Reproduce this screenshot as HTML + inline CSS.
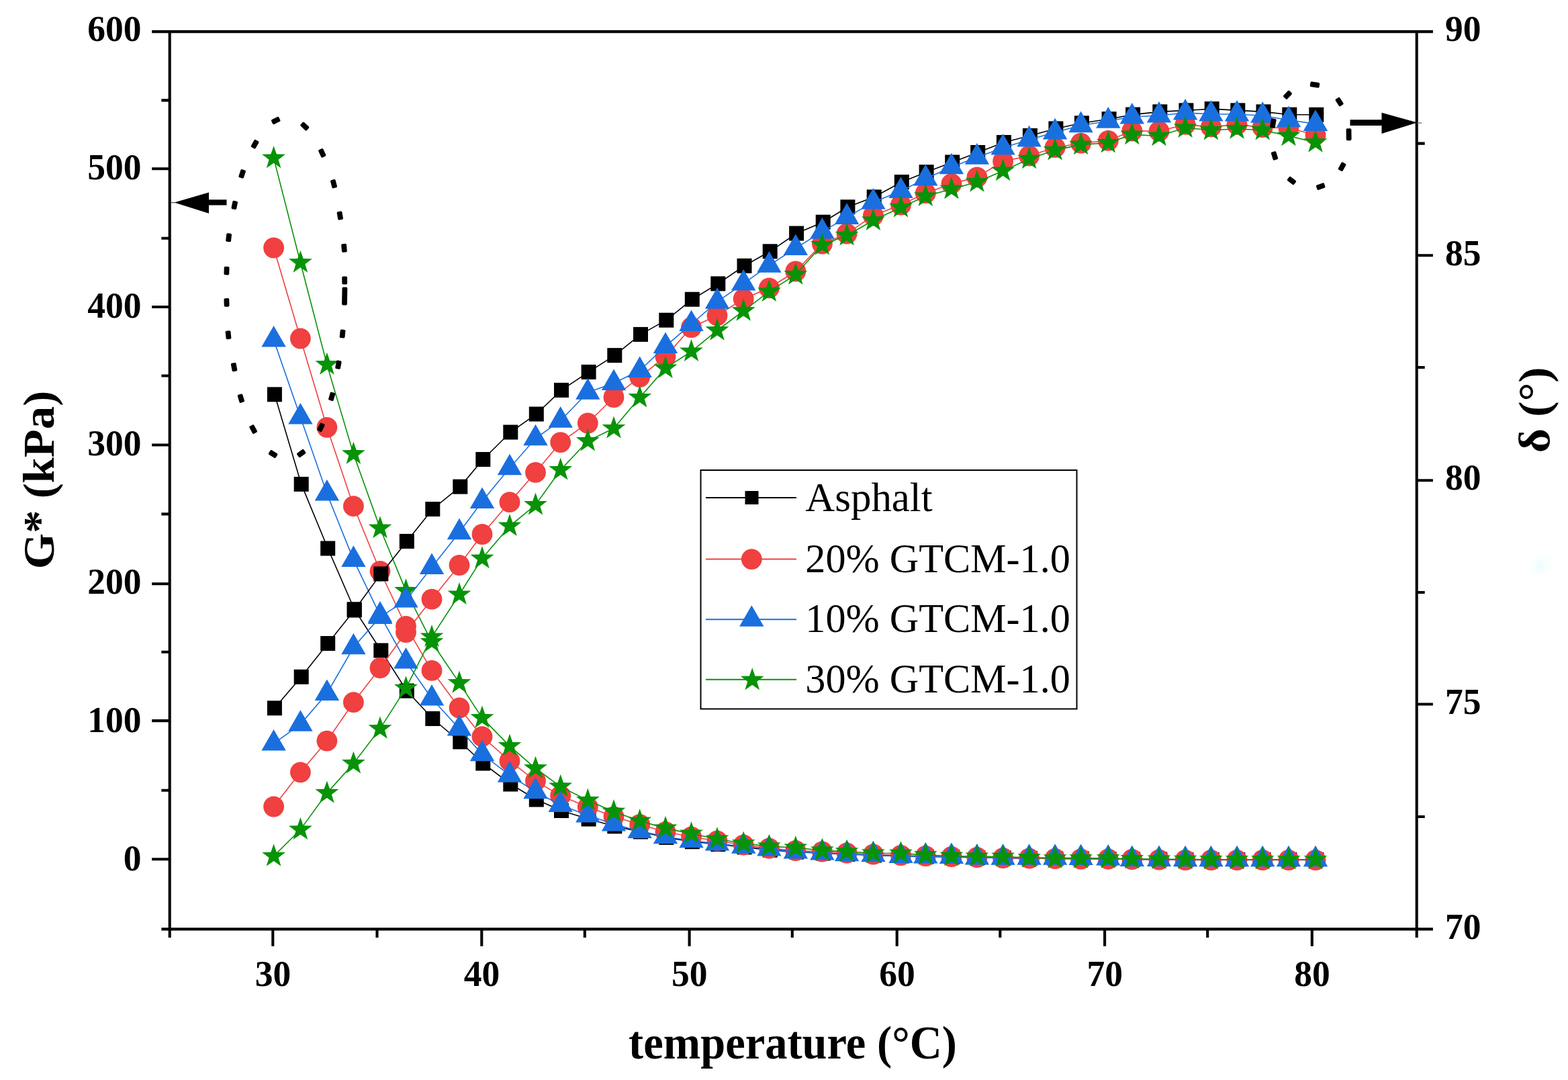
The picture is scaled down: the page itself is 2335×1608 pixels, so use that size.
<!DOCTYPE html>
<html lang="en"><head><meta charset="utf-8"><title>G* and delta vs temperature</title>
<style>html,body{margin:0;padding:0;background:#fff}body{width:2335px;height:1608px;overflow:hidden}svg{display:block}text{font-family:"Liberation Serif","Times New Roman",serif;fill:#000}.b{font-weight:bold}.tk{font-size:55.5px;font-weight:bold}.tt{font-size:70px;font-weight:bold}.ty{font-size:66px;font-weight:bold}.lg{font-size:62px}</style></head><body>
<svg width="2335" height="1608" viewBox="0 0 2335 1608">
<rect width="2335" height="1608" fill="#fff"/>
<g id="layer-g">
<g fill="#000000" stroke="none">
<polyline fill="none" stroke="#000000" stroke-width="1.6" points="408.9,587.3 448.7,720.9 488.2,816.5 527.7,907.2 567.3,968.5 605.8,1028.6 644.3,1070 685.3,1104.5 719.3,1136.5 760.3,1167.5 798.8,1190.5 836,1207 876.6,1219.5 915.3,1230.3 954,1238.4 992.3,1246.9 1030.8,1253.2 1069.3,1257 1108.5,1261.4 1146.7,1265.7 1186.1,1268.5 1225.7,1270.5 1262.4,1272 1301.7,1273.5 1342.8,1274.5 1379.6,1275.5 1418.2,1276 1456.2,1277 1494.9,1277.5 1533.9,1278 1572.4,1278.5 1610.9,1278.5 1651.6,1279 1687.1,1279.5 1727.3,1279.5 1766.4,1280 1804.7,1280 1843.3,1280 1881.5,1280 1920.3,1280 1960.3,1280"/>
<rect x="397.9" y="576.3" width="22" height="22"/>
<rect x="437.7" y="709.9" width="22" height="22"/>
<rect x="477.2" y="805.5" width="22" height="22"/>
<rect x="516.7" y="896.2" width="22" height="22"/>
<rect x="556.3" y="957.5" width="22" height="22"/>
<rect x="594.8" y="1017.6" width="22" height="22"/>
<rect x="633.3" y="1059" width="22" height="22"/>
<rect x="674.3" y="1093.5" width="22" height="22"/>
<rect x="708.3" y="1125.5" width="22" height="22"/>
<rect x="749.3" y="1156.5" width="22" height="22"/>
<rect x="787.8" y="1179.5" width="22" height="22"/>
<rect x="825" y="1196" width="22" height="22"/>
<rect x="865.6" y="1208.5" width="22" height="22"/>
<rect x="904.3" y="1219.3" width="22" height="22"/>
<rect x="943" y="1227.4" width="22" height="22"/>
<rect x="981.3" y="1235.9" width="22" height="22"/>
<rect x="1019.8" y="1242.2" width="22" height="22"/>
<rect x="1058.3" y="1246" width="22" height="22"/>
<rect x="1097.5" y="1250.4" width="22" height="22"/>
<rect x="1135.7" y="1254.7" width="22" height="22"/>
<rect x="1175.1" y="1257.5" width="22" height="22"/>
<rect x="1214.7" y="1259.5" width="22" height="22"/>
<rect x="1251.4" y="1261" width="22" height="22"/>
<rect x="1290.7" y="1262.5" width="22" height="22"/>
<rect x="1331.8" y="1263.5" width="22" height="22"/>
<rect x="1368.6" y="1264.5" width="22" height="22"/>
<rect x="1407.2" y="1265" width="22" height="22"/>
<rect x="1445.2" y="1266" width="22" height="22"/>
<rect x="1483.9" y="1266.5" width="22" height="22"/>
<rect x="1522.9" y="1267" width="22" height="22"/>
<rect x="1561.4" y="1267.5" width="22" height="22"/>
<rect x="1599.9" y="1267.5" width="22" height="22"/>
<rect x="1640.6" y="1268" width="22" height="22"/>
<rect x="1676.1" y="1268.5" width="22" height="22"/>
<rect x="1716.3" y="1268.5" width="22" height="22"/>
<rect x="1755.4" y="1269" width="22" height="22"/>
<rect x="1793.7" y="1269" width="22" height="22"/>
<rect x="1832.3" y="1269" width="22" height="22"/>
<rect x="1870.5" y="1269" width="22" height="22"/>
<rect x="1909.3" y="1269" width="22" height="22"/>
<rect x="1949.3" y="1269" width="22" height="22"/>
</g>
<g fill="#F04040" stroke="none">
<polyline fill="none" stroke="#F04040" stroke-width="1.6" points="407.6,369 447.4,504 486.9,636.3 526.4,753.7 566,850.3 604.5,932.3 643,998.4 684,1054 718,1096.7 759,1133 797.5,1162.7 834.7,1184.7 875.3,1201.6 914,1215.8 952.7,1227.4 991,1238.5 1029.5,1246 1068,1252 1107.2,1258 1145.4,1263 1184.8,1266.5 1224.4,1268 1261.1,1270 1300.4,1272 1341.5,1273.5 1378.3,1274.5 1416.9,1275.5 1454.9,1276.5 1493.6,1277.5 1532.6,1278 1571.1,1278.5 1609.6,1279 1650.3,1279 1685.8,1279.5 1726,1280 1765.1,1280.5 1803.4,1280.5 1842,1280.5 1880.2,1280.5 1919,1280.5 1959,1280.5"/>
<circle cx="407.6" cy="369" r="15.4"/>
<circle cx="447.4" cy="504" r="15.4"/>
<circle cx="486.9" cy="636.3" r="15.4"/>
<circle cx="526.4" cy="753.7" r="15.4"/>
<circle cx="566" cy="850.3" r="15.4"/>
<circle cx="604.5" cy="932.3" r="15.4"/>
<circle cx="643" cy="998.4" r="15.4"/>
<circle cx="684" cy="1054" r="15.4"/>
<circle cx="718" cy="1096.7" r="15.4"/>
<circle cx="759" cy="1133" r="15.4"/>
<circle cx="797.5" cy="1162.7" r="15.4"/>
<circle cx="834.7" cy="1184.7" r="15.4"/>
<circle cx="875.3" cy="1201.6" r="15.4"/>
<circle cx="914" cy="1215.8" r="15.4"/>
<circle cx="952.7" cy="1227.4" r="15.4"/>
<circle cx="991" cy="1238.5" r="15.4"/>
<circle cx="1029.5" cy="1246" r="15.4"/>
<circle cx="1068" cy="1252" r="15.4"/>
<circle cx="1107.2" cy="1258" r="15.4"/>
<circle cx="1145.4" cy="1263" r="15.4"/>
<circle cx="1184.8" cy="1266.5" r="15.4"/>
<circle cx="1224.4" cy="1268" r="15.4"/>
<circle cx="1261.1" cy="1270" r="15.4"/>
<circle cx="1300.4" cy="1272" r="15.4"/>
<circle cx="1341.5" cy="1273.5" r="15.4"/>
<circle cx="1378.3" cy="1274.5" r="15.4"/>
<circle cx="1416.9" cy="1275.5" r="15.4"/>
<circle cx="1454.9" cy="1276.5" r="15.4"/>
<circle cx="1493.6" cy="1277.5" r="15.4"/>
<circle cx="1532.6" cy="1278" r="15.4"/>
<circle cx="1571.1" cy="1278.5" r="15.4"/>
<circle cx="1609.6" cy="1279" r="15.4"/>
<circle cx="1650.3" cy="1279" r="15.4"/>
<circle cx="1685.8" cy="1279.5" r="15.4"/>
<circle cx="1726" cy="1280" r="15.4"/>
<circle cx="1765.1" cy="1280.5" r="15.4"/>
<circle cx="1803.4" cy="1280.5" r="15.4"/>
<circle cx="1842" cy="1280.5" r="15.4"/>
<circle cx="1880.2" cy="1280.5" r="15.4"/>
<circle cx="1919" cy="1280.5" r="15.4"/>
<circle cx="1959" cy="1280.5" r="15.4"/>
</g>
<g fill="#1A6FDF" stroke="none">
<polyline fill="none" stroke="#1A6FDF" stroke-width="1.6" points="407.6,506 447.4,621 486.9,735 526.4,833.4 566,916.2 604.5,985 643,1040 684,1085 718,1122.8 759,1154.2 797.5,1178.7 834.7,1198.5 875.3,1214 914,1227 952.7,1237.4 991,1245.8 1029.5,1251.8 1068,1256.1 1107.2,1260.2 1145.4,1264.1 1184.8,1268 1224.4,1269.9 1261.1,1271.7 1300.4,1272.8 1341.5,1274.5 1378.3,1275 1416.9,1275.5 1454.9,1277 1493.6,1277.3 1532.6,1277.3 1571.1,1277.3 1609.6,1277.5 1650.3,1278 1685.8,1279.5 1726,1279.5 1765.1,1279.8 1803.4,1279.8 1842,1279.8 1880.2,1279.8 1919,1279.8 1959,1279.8"/>
<polygon points="407.6,484.9 425.8,516.5 389.4,516.5"/>
<polygon points="447.4,599.9 465.6,631.5 429.2,631.5"/>
<polygon points="486.9,713.9 505.1,745.5 468.7,745.5"/>
<polygon points="526.4,812.3 544.6,843.9 508.2,843.9"/>
<polygon points="566,895.1 584.2,926.7 547.8,926.7"/>
<polygon points="604.5,963.9 622.7,995.5 586.3,995.5"/>
<polygon points="643,1018.9 661.2,1050.5 624.8,1050.5"/>
<polygon points="684,1063.9 702.2,1095.5 665.8,1095.5"/>
<polygon points="718,1101.7 736.2,1133.3 699.8,1133.3"/>
<polygon points="759,1133.1 777.2,1164.7 740.8,1164.7"/>
<polygon points="797.5,1157.6 815.7,1189.2 779.3,1189.2"/>
<polygon points="834.7,1177.4 852.9,1209 816.5,1209"/>
<polygon points="875.3,1192.9 893.5,1224.5 857.1,1224.5"/>
<polygon points="914,1205.9 932.2,1237.5 895.8,1237.5"/>
<polygon points="952.7,1216.3 970.9,1247.9 934.5,1247.9"/>
<polygon points="991,1224.7 1009.2,1256.3 972.8,1256.3"/>
<polygon points="1029.5,1230.7 1047.7,1262.3 1011.3,1262.3"/>
<polygon points="1068,1235 1086.2,1266.6 1049.8,1266.6"/>
<polygon points="1107.2,1239.1 1125.4,1270.7 1089,1270.7"/>
<polygon points="1145.4,1243 1163.6,1274.6 1127.2,1274.6"/>
<polygon points="1184.8,1246.9 1203,1278.5 1166.6,1278.5"/>
<polygon points="1224.4,1248.8 1242.6,1280.4 1206.2,1280.4"/>
<polygon points="1261.1,1250.6 1279.3,1282.2 1242.9,1282.2"/>
<polygon points="1300.4,1251.7 1318.6,1283.3 1282.2,1283.3"/>
<polygon points="1341.5,1253.4 1359.7,1285 1323.3,1285"/>
<polygon points="1378.3,1253.9 1396.5,1285.5 1360.1,1285.5"/>
<polygon points="1416.9,1254.4 1435.1,1286 1398.7,1286"/>
<polygon points="1454.9,1255.9 1473.1,1287.5 1436.7,1287.5"/>
<polygon points="1493.6,1256.2 1511.8,1287.8 1475.4,1287.8"/>
<polygon points="1532.6,1256.2 1550.8,1287.8 1514.4,1287.8"/>
<polygon points="1571.1,1256.2 1589.3,1287.8 1552.9,1287.8"/>
<polygon points="1609.6,1256.4 1627.8,1288 1591.4,1288"/>
<polygon points="1650.3,1256.9 1668.5,1288.5 1632.1,1288.5"/>
<polygon points="1685.8,1258.4 1704,1290 1667.6,1290"/>
<polygon points="1726,1258.4 1744.2,1290 1707.8,1290"/>
<polygon points="1765.1,1258.7 1783.3,1290.3 1746.9,1290.3"/>
<polygon points="1803.4,1258.7 1821.6,1290.3 1785.2,1290.3"/>
<polygon points="1842,1258.7 1860.2,1290.3 1823.8,1290.3"/>
<polygon points="1880.2,1258.7 1898.4,1290.3 1862,1290.3"/>
<polygon points="1919,1258.7 1937.2,1290.3 1900.8,1290.3"/>
<polygon points="1959,1258.7 1977.2,1290.3 1940.8,1290.3"/>
</g>
<g fill="#079307" stroke="none">
<polyline fill="none" stroke="#079307" stroke-width="1.6" points="407.6,235.5 447.4,391 486.9,543 526.4,676 566,786.5 604.5,879.6 643,956 684,1016.9 718,1068.9 759,1110.8 797.5,1144 834.7,1171.1 875.3,1191.8 914,1208.4 952.7,1222.3 991,1233.1 1029.5,1241.3 1068,1249.3 1107.2,1255.8 1145.4,1260.1 1184.8,1262.2 1224.4,1266.1 1261.1,1268 1300.4,1270.2 1341.5,1270.5 1378.3,1273 1416.9,1274.5 1454.9,1275.3 1493.6,1275.5 1532.6,1277 1571.1,1277.9 1609.6,1278 1650.3,1278 1685.8,1278.8 1726,1279.3 1765.1,1279.5 1803.4,1279.8 1842,1279.8 1880.2,1279.8 1919,1279.8 1959,1279.8"/>
<polygon points="407.6,217.2 411.9,229.6 425,229.8 414.6,237.8 418.4,250.3 407.6,242.8 396.8,250.3 400.6,237.8 390.2,229.8 403.3,229.6"/>
<polygon points="447.4,372.7 451.7,385.1 464.8,385.3 454.4,393.3 458.2,405.8 447.4,398.3 436.6,405.8 440.4,393.3 430,385.3 443.1,385.1"/>
<polygon points="486.9,524.7 491.2,537.1 504.3,537.3 493.9,545.3 497.7,557.8 486.9,550.3 476.1,557.8 479.9,545.3 469.5,537.3 482.6,537.1"/>
<polygon points="526.4,657.7 530.7,670.1 543.8,670.3 533.4,678.3 537.2,690.8 526.4,683.3 515.6,690.8 519.4,678.3 509,670.3 522.1,670.1"/>
<polygon points="566,768.2 570.3,780.6 583.4,780.8 573,788.8 576.8,801.3 566,793.8 555.2,801.3 559,788.8 548.6,780.8 561.7,780.6"/>
<polygon points="604.5,861.3 608.8,873.7 621.9,873.9 611.5,881.9 615.3,894.4 604.5,886.9 593.7,894.4 597.5,881.9 587.1,873.9 600.2,873.7"/>
<polygon points="643,937.7 647.3,950.1 660.4,950.3 650,958.3 653.8,970.8 643,963.3 632.2,970.8 636,958.3 625.6,950.3 638.7,950.1"/>
<polygon points="684,998.6 688.3,1011 701.4,1011.2 691,1019.2 694.8,1031.7 684,1024.2 673.2,1031.7 677,1019.2 666.6,1011.2 679.7,1011"/>
<polygon points="718,1050.6 722.3,1063 735.4,1063.2 725,1071.2 728.8,1083.7 718,1076.2 707.2,1083.7 711,1071.2 700.6,1063.2 713.7,1063"/>
<polygon points="759,1092.5 763.3,1104.9 776.4,1105.1 766,1113.1 769.8,1125.6 759,1118.1 748.2,1125.6 752,1113.1 741.6,1105.1 754.7,1104.9"/>
<polygon points="797.5,1125.7 801.8,1138.1 814.9,1138.3 804.5,1146.3 808.3,1158.8 797.5,1151.3 786.7,1158.8 790.5,1146.3 780.1,1138.3 793.2,1138.1"/>
<polygon points="834.7,1152.8 839,1165.2 852.1,1165.4 841.7,1173.4 845.5,1185.9 834.7,1178.4 823.9,1185.9 827.7,1173.4 817.3,1165.4 830.4,1165.2"/>
<polygon points="875.3,1173.5 879.6,1185.9 892.7,1186.1 882.3,1194.1 886.1,1206.6 875.3,1199.1 864.5,1206.6 868.3,1194.1 857.9,1186.1 871,1185.9"/>
<polygon points="914,1190.1 918.3,1202.5 931.4,1202.7 921,1210.7 924.8,1223.2 914,1215.7 903.2,1223.2 907,1210.7 896.6,1202.7 909.7,1202.5"/>
<polygon points="952.7,1204 957,1216.4 970.1,1216.6 959.7,1224.6 963.5,1237.1 952.7,1229.6 941.9,1237.1 945.7,1224.6 935.3,1216.6 948.4,1216.4"/>
<polygon points="991,1214.8 995.3,1227.2 1008.4,1227.4 998,1235.4 1001.8,1247.9 991,1240.4 980.2,1247.9 984,1235.4 973.6,1227.4 986.7,1227.2"/>
<polygon points="1029.5,1223 1033.8,1235.4 1046.9,1235.6 1036.5,1243.6 1040.3,1256.1 1029.5,1248.6 1018.7,1256.1 1022.5,1243.6 1012.1,1235.6 1025.2,1235.4"/>
<polygon points="1068,1231 1072.3,1243.4 1085.4,1243.6 1075,1251.6 1078.8,1264.1 1068,1256.6 1057.2,1264.1 1061,1251.6 1050.6,1243.6 1063.7,1243.4"/>
<polygon points="1107.2,1237.5 1111.5,1249.9 1124.6,1250.1 1114.2,1258.1 1118,1270.6 1107.2,1263.1 1096.4,1270.6 1100.2,1258.1 1089.8,1250.1 1102.9,1249.9"/>
<polygon points="1145.4,1241.8 1149.7,1254.2 1162.8,1254.4 1152.4,1262.4 1156.2,1274.9 1145.4,1267.4 1134.6,1274.9 1138.4,1262.4 1128,1254.4 1141.1,1254.2"/>
<polygon points="1184.8,1243.9 1189.1,1256.3 1202.2,1256.5 1191.8,1264.5 1195.6,1277 1184.8,1269.5 1174,1277 1177.8,1264.5 1167.4,1256.5 1180.5,1256.3"/>
<polygon points="1224.4,1247.8 1228.7,1260.2 1241.8,1260.4 1231.4,1268.4 1235.2,1280.9 1224.4,1273.4 1213.6,1280.9 1217.4,1268.4 1207,1260.4 1220.1,1260.2"/>
<polygon points="1261.1,1249.7 1265.4,1262.1 1278.5,1262.3 1268.1,1270.3 1271.9,1282.8 1261.1,1275.3 1250.3,1282.8 1254.1,1270.3 1243.7,1262.3 1256.8,1262.1"/>
<polygon points="1300.4,1251.9 1304.7,1264.3 1317.8,1264.5 1307.4,1272.5 1311.2,1285 1300.4,1277.5 1289.6,1285 1293.4,1272.5 1283,1264.5 1296.1,1264.3"/>
<polygon points="1341.5,1252.2 1345.8,1264.6 1358.9,1264.8 1348.5,1272.8 1352.3,1285.3 1341.5,1277.8 1330.7,1285.3 1334.5,1272.8 1324.1,1264.8 1337.2,1264.6"/>
<polygon points="1378.3,1254.7 1382.6,1267.1 1395.7,1267.3 1385.3,1275.3 1389.1,1287.8 1378.3,1280.3 1367.5,1287.8 1371.3,1275.3 1360.9,1267.3 1374,1267.1"/>
<polygon points="1416.9,1256.2 1421.2,1268.6 1434.3,1268.8 1423.9,1276.8 1427.7,1289.3 1416.9,1281.8 1406.1,1289.3 1409.9,1276.8 1399.5,1268.8 1412.6,1268.6"/>
<polygon points="1454.9,1257 1459.2,1269.4 1472.3,1269.6 1461.9,1277.6 1465.7,1290.1 1454.9,1282.6 1444.1,1290.1 1447.9,1277.6 1437.5,1269.6 1450.6,1269.4"/>
<polygon points="1493.6,1257.2 1497.9,1269.6 1511,1269.8 1500.6,1277.8 1504.4,1290.3 1493.6,1282.8 1482.8,1290.3 1486.6,1277.8 1476.2,1269.8 1489.3,1269.6"/>
<polygon points="1532.6,1258.7 1536.9,1271.1 1550,1271.3 1539.6,1279.3 1543.4,1291.8 1532.6,1284.3 1521.8,1291.8 1525.6,1279.3 1515.2,1271.3 1528.3,1271.1"/>
<polygon points="1571.1,1259.6 1575.4,1272 1588.5,1272.2 1578.1,1280.2 1581.9,1292.7 1571.1,1285.2 1560.3,1292.7 1564.1,1280.2 1553.7,1272.2 1566.8,1272"/>
<polygon points="1609.6,1259.7 1613.9,1272.1 1627,1272.3 1616.6,1280.3 1620.4,1292.8 1609.6,1285.3 1598.8,1292.8 1602.6,1280.3 1592.2,1272.3 1605.3,1272.1"/>
<polygon points="1650.3,1259.7 1654.6,1272.1 1667.7,1272.3 1657.3,1280.3 1661.1,1292.8 1650.3,1285.3 1639.5,1292.8 1643.3,1280.3 1632.9,1272.3 1646,1272.1"/>
<polygon points="1685.8,1260.5 1690.1,1272.9 1703.2,1273.1 1692.8,1281.1 1696.6,1293.6 1685.8,1286.1 1675,1293.6 1678.8,1281.1 1668.4,1273.1 1681.5,1272.9"/>
<polygon points="1726,1261 1730.3,1273.4 1743.4,1273.6 1733,1281.6 1736.8,1294.1 1726,1286.6 1715.2,1294.1 1719,1281.6 1708.6,1273.6 1721.7,1273.4"/>
<polygon points="1765.1,1261.2 1769.4,1273.6 1782.5,1273.8 1772.1,1281.8 1775.9,1294.3 1765.1,1286.8 1754.3,1294.3 1758.1,1281.8 1747.7,1273.8 1760.8,1273.6"/>
<polygon points="1803.4,1261.5 1807.7,1273.9 1820.8,1274.1 1810.4,1282.1 1814.2,1294.6 1803.4,1287.1 1792.6,1294.6 1796.4,1282.1 1786,1274.1 1799.1,1273.9"/>
<polygon points="1842,1261.5 1846.3,1273.9 1859.4,1274.1 1849,1282.1 1852.8,1294.6 1842,1287.1 1831.2,1294.6 1835,1282.1 1824.6,1274.1 1837.7,1273.9"/>
<polygon points="1880.2,1261.5 1884.5,1273.9 1897.6,1274.1 1887.2,1282.1 1891,1294.6 1880.2,1287.1 1869.4,1294.6 1873.2,1282.1 1862.8,1274.1 1875.9,1273.9"/>
<polygon points="1919,1261.5 1923.3,1273.9 1936.4,1274.1 1926,1282.1 1929.8,1294.6 1919,1287.1 1908.2,1294.6 1912,1282.1 1901.6,1274.1 1914.7,1273.9"/>
<polygon points="1959,1261.5 1963.3,1273.9 1976.4,1274.1 1966,1282.1 1969.8,1294.6 1959,1287.1 1948.2,1294.6 1952,1282.1 1941.6,1274.1 1954.7,1273.9"/>
</g>
</g><g id="layer-d">
<g fill="#000000" stroke="none">
<polyline fill="none" stroke="#000000" stroke-width="1.6" points="408.9,1054.3 448.7,1007.8 488.2,958 527.7,908.5 567.3,854.4 605.8,805.9 644.3,758 685.3,724.6 719.3,684 760.3,643.5 798.8,616.5 836,580.9 876.6,553.9 915.3,529.1 954,497.9 992.3,476.7 1030.8,445.7 1069.3,422.4 1108.5,395.8 1146.7,374.3 1186.1,347.5 1225.7,330.7 1262.4,308.2 1301.7,293.3 1342.8,271 1379.6,256.2 1418.2,241.5 1456.2,227 1494.9,212 1533.9,202 1572.4,191.5 1610.9,183.3 1651.6,177.2 1687.1,170.6 1727.3,166.4 1766.4,164.4 1804.7,162.1 1843.3,164.4 1881.5,166.4 1920.3,170.7 1960.3,170.8"/>
<rect x="397.9" y="1043.3" width="22" height="22"/>
<rect x="437.7" y="996.8" width="22" height="22"/>
<rect x="477.2" y="947" width="22" height="22"/>
<rect x="516.7" y="897.5" width="22" height="22"/>
<rect x="556.3" y="843.4" width="22" height="22"/>
<rect x="594.8" y="794.9" width="22" height="22"/>
<rect x="633.3" y="747" width="22" height="22"/>
<rect x="674.3" y="713.6" width="22" height="22"/>
<rect x="708.3" y="673" width="22" height="22"/>
<rect x="749.3" y="632.5" width="22" height="22"/>
<rect x="787.8" y="605.5" width="22" height="22"/>
<rect x="825" y="569.9" width="22" height="22"/>
<rect x="865.6" y="542.9" width="22" height="22"/>
<rect x="904.3" y="518.1" width="22" height="22"/>
<rect x="943" y="486.9" width="22" height="22"/>
<rect x="981.3" y="465.7" width="22" height="22"/>
<rect x="1019.8" y="434.7" width="22" height="22"/>
<rect x="1058.3" y="411.4" width="22" height="22"/>
<rect x="1097.5" y="384.8" width="22" height="22"/>
<rect x="1135.7" y="363.3" width="22" height="22"/>
<rect x="1175.1" y="336.5" width="22" height="22"/>
<rect x="1214.7" y="319.7" width="22" height="22"/>
<rect x="1251.4" y="297.2" width="22" height="22"/>
<rect x="1290.7" y="282.3" width="22" height="22"/>
<rect x="1331.8" y="260" width="22" height="22"/>
<rect x="1368.6" y="245.2" width="22" height="22"/>
<rect x="1407.2" y="230.5" width="22" height="22"/>
<rect x="1445.2" y="216" width="22" height="22"/>
<rect x="1483.9" y="201" width="22" height="22"/>
<rect x="1522.9" y="191" width="22" height="22"/>
<rect x="1561.4" y="180.5" width="22" height="22"/>
<rect x="1599.9" y="172.3" width="22" height="22"/>
<rect x="1640.6" y="166.2" width="22" height="22"/>
<rect x="1676.1" y="159.6" width="22" height="22"/>
<rect x="1716.3" y="155.4" width="22" height="22"/>
<rect x="1755.4" y="153.4" width="22" height="22"/>
<rect x="1793.7" y="151.1" width="22" height="22"/>
<rect x="1832.3" y="153.4" width="22" height="22"/>
<rect x="1870.5" y="155.4" width="22" height="22"/>
<rect x="1909.3" y="159.7" width="22" height="22"/>
<rect x="1949.3" y="159.8" width="22" height="22"/>
</g>
<g fill="#F04040" stroke="none">
<polyline fill="none" stroke="#F04040" stroke-width="1.6" points="407.6,1201 447.4,1149.8 486.9,1103.2 526.4,1045.7 566,994.5 604.5,941.6 643,892.2 684,841.5 718,795.5 759,747.7 797.5,703.4 834.7,658.6 875.3,630 914,591.5 952.7,561.3 991,531 1029.5,487.5 1068,469.8 1107.2,445 1145.4,428.8 1184.8,404 1224.4,363 1261.1,348 1300.4,321 1341.5,305 1378.3,287.7 1416.9,273.6 1454.9,263.9 1493.6,240.2 1532.6,232 1571.1,219.7 1609.6,213.2 1650.3,209.4 1685.8,195 1726,195.3 1765.1,185.4 1803.4,188.9 1842,185.4 1880.2,189.7 1919,190.6 1959,201"/>
<circle cx="407.6" cy="1201" r="15.4"/>
<circle cx="447.4" cy="1149.8" r="15.4"/>
<circle cx="486.9" cy="1103.2" r="15.4"/>
<circle cx="526.4" cy="1045.7" r="15.4"/>
<circle cx="566" cy="994.5" r="15.4"/>
<circle cx="604.5" cy="941.6" r="15.4"/>
<circle cx="643" cy="892.2" r="15.4"/>
<circle cx="684" cy="841.5" r="15.4"/>
<circle cx="718" cy="795.5" r="15.4"/>
<circle cx="759" cy="747.7" r="15.4"/>
<circle cx="797.5" cy="703.4" r="15.4"/>
<circle cx="834.7" cy="658.6" r="15.4"/>
<circle cx="875.3" cy="630" r="15.4"/>
<circle cx="914" cy="591.5" r="15.4"/>
<circle cx="952.7" cy="561.3" r="15.4"/>
<circle cx="991" cy="531" r="15.4"/>
<circle cx="1029.5" cy="487.5" r="15.4"/>
<circle cx="1068" cy="469.8" r="15.4"/>
<circle cx="1107.2" cy="445" r="15.4"/>
<circle cx="1145.4" cy="428.8" r="15.4"/>
<circle cx="1184.8" cy="404" r="15.4"/>
<circle cx="1224.4" cy="363" r="15.4"/>
<circle cx="1261.1" cy="348" r="15.4"/>
<circle cx="1300.4" cy="321" r="15.4"/>
<circle cx="1341.5" cy="305" r="15.4"/>
<circle cx="1378.3" cy="287.7" r="15.4"/>
<circle cx="1416.9" cy="273.6" r="15.4"/>
<circle cx="1454.9" cy="263.9" r="15.4"/>
<circle cx="1493.6" cy="240.2" r="15.4"/>
<circle cx="1532.6" cy="232" r="15.4"/>
<circle cx="1571.1" cy="219.7" r="15.4"/>
<circle cx="1609.6" cy="213.2" r="15.4"/>
<circle cx="1650.3" cy="209.4" r="15.4"/>
<circle cx="1685.8" cy="195" r="15.4"/>
<circle cx="1726" cy="195.3" r="15.4"/>
<circle cx="1765.1" cy="185.4" r="15.4"/>
<circle cx="1803.4" cy="188.9" r="15.4"/>
<circle cx="1842" cy="185.4" r="15.4"/>
<circle cx="1880.2" cy="189.7" r="15.4"/>
<circle cx="1919" cy="190.6" r="15.4"/>
<circle cx="1959" cy="201" r="15.4"/>
</g>
<g fill="#1A6FDF" stroke="none">
<polyline fill="none" stroke="#1A6FDF" stroke-width="1.6" points="407.6,1107.1 447.4,1078.3 486.9,1032.5 526.4,963.8 566,918.6 604.5,894 643,844.5 684,792.7 718,746.6 759,696.8 797.5,652.8 834.7,626.2 875.3,584.2 914,570.5 952.7,551.5 991,515.5 1029.5,482.5 1068,449.3 1107.2,422.1 1145.4,395.2 1184.8,369.5 1224.4,345.1 1261.1,323.4 1300.4,301 1341.5,284.4 1378.3,265.9 1416.9,248.8 1454.9,234.2 1493.6,220.1 1532.6,207.9 1571.1,196.9 1609.6,186.7 1650.3,180.2 1685.8,174 1726,172 1765.1,168 1803.4,170 1842,170 1880.2,172.3 1919,178.7 1959,184.4"/>
<polygon points="407.6,1086 425.8,1117.6 389.4,1117.6"/>
<polygon points="447.4,1057.2 465.6,1088.8 429.2,1088.8"/>
<polygon points="486.9,1011.4 505.1,1043 468.7,1043"/>
<polygon points="526.4,942.7 544.6,974.3 508.2,974.3"/>
<polygon points="566,897.5 584.2,929.1 547.8,929.1"/>
<polygon points="604.5,872.9 622.7,904.5 586.3,904.5"/>
<polygon points="643,823.4 661.2,855 624.8,855"/>
<polygon points="684,771.6 702.2,803.2 665.8,803.2"/>
<polygon points="718,725.5 736.2,757.1 699.8,757.1"/>
<polygon points="759,675.7 777.2,707.3 740.8,707.3"/>
<polygon points="797.5,631.7 815.7,663.3 779.3,663.3"/>
<polygon points="834.7,605.1 852.9,636.7 816.5,636.7"/>
<polygon points="875.3,563.1 893.5,594.7 857.1,594.7"/>
<polygon points="914,549.4 932.2,581 895.8,581"/>
<polygon points="952.7,530.4 970.9,562 934.5,562"/>
<polygon points="991,494.4 1009.2,526 972.8,526"/>
<polygon points="1029.5,461.4 1047.7,493 1011.3,493"/>
<polygon points="1068,428.2 1086.2,459.8 1049.8,459.8"/>
<polygon points="1107.2,401 1125.4,432.6 1089,432.6"/>
<polygon points="1145.4,374.1 1163.6,405.7 1127.2,405.7"/>
<polygon points="1184.8,348.4 1203,380 1166.6,380"/>
<polygon points="1224.4,324 1242.6,355.6 1206.2,355.6"/>
<polygon points="1261.1,302.3 1279.3,333.9 1242.9,333.9"/>
<polygon points="1300.4,279.9 1318.6,311.5 1282.2,311.5"/>
<polygon points="1341.5,263.3 1359.7,294.9 1323.3,294.9"/>
<polygon points="1378.3,244.8 1396.5,276.4 1360.1,276.4"/>
<polygon points="1416.9,227.7 1435.1,259.3 1398.7,259.3"/>
<polygon points="1454.9,213.1 1473.1,244.7 1436.7,244.7"/>
<polygon points="1493.6,199 1511.8,230.6 1475.4,230.6"/>
<polygon points="1532.6,186.8 1550.8,218.4 1514.4,218.4"/>
<polygon points="1571.1,175.8 1589.3,207.4 1552.9,207.4"/>
<polygon points="1609.6,165.6 1627.8,197.2 1591.4,197.2"/>
<polygon points="1650.3,159.1 1668.5,190.7 1632.1,190.7"/>
<polygon points="1685.8,152.9 1704,184.5 1667.6,184.5"/>
<polygon points="1726,150.9 1744.2,182.5 1707.8,182.5"/>
<polygon points="1765.1,146.9 1783.3,178.5 1746.9,178.5"/>
<polygon points="1803.4,148.9 1821.6,180.5 1785.2,180.5"/>
<polygon points="1842,148.9 1860.2,180.5 1823.8,180.5"/>
<polygon points="1880.2,151.2 1898.4,182.8 1862,182.8"/>
<polygon points="1919,157.6 1937.2,189.2 1900.8,189.2"/>
<polygon points="1959,163.3 1977.2,194.9 1940.8,194.9"/>
</g>
<g fill="#079307" stroke="none">
<polyline fill="none" stroke="#079307" stroke-width="1.6" points="407.6,1274.7 447.4,1235.1 486.9,1180.7 526.4,1136.7 566,1084.9 604.5,1024.6 643,948.3 684,885.3 718,831.4 759,783.3 797.5,751.8 834.7,699.8 875.3,656.6 914,637.8 952.7,591.8 991,548.1 1029.5,523.3 1068,492 1107.2,462.9 1145.4,434.2 1184.8,409 1224.4,364.8 1261.1,350.6 1300.4,328.2 1341.5,308.8 1378.3,292.2 1416.9,281.4 1454.9,271 1493.6,254.4 1532.6,236.5 1571.1,223.6 1609.6,215.4 1650.3,212.8 1685.8,200.4 1726,202.5 1765.1,190.3 1803.4,193.7 1842,192 1880.2,193.7 1919,202.4 1959,212"/>
<polygon points="407.6,1256.4 411.9,1268.8 425,1269 414.6,1277 418.4,1289.5 407.6,1282 396.8,1289.5 400.6,1277 390.2,1269 403.3,1268.8"/>
<polygon points="447.4,1216.8 451.7,1229.2 464.8,1229.4 454.4,1237.4 458.2,1249.9 447.4,1242.4 436.6,1249.9 440.4,1237.4 430,1229.4 443.1,1229.2"/>
<polygon points="486.9,1162.4 491.2,1174.8 504.3,1175 493.9,1183 497.7,1195.5 486.9,1188 476.1,1195.5 479.9,1183 469.5,1175 482.6,1174.8"/>
<polygon points="526.4,1118.4 530.7,1130.8 543.8,1131 533.4,1139 537.2,1151.5 526.4,1144 515.6,1151.5 519.4,1139 509,1131 522.1,1130.8"/>
<polygon points="566,1066.6 570.3,1079 583.4,1079.2 573,1087.2 576.8,1099.7 566,1092.2 555.2,1099.7 559,1087.2 548.6,1079.2 561.7,1079"/>
<polygon points="604.5,1006.3 608.8,1018.7 621.9,1018.9 611.5,1026.9 615.3,1039.4 604.5,1031.9 593.7,1039.4 597.5,1026.9 587.1,1018.9 600.2,1018.7"/>
<polygon points="643,930 647.3,942.4 660.4,942.6 650,950.6 653.8,963.1 643,955.6 632.2,963.1 636,950.6 625.6,942.6 638.7,942.4"/>
<polygon points="684,867 688.3,879.4 701.4,879.6 691,887.6 694.8,900.1 684,892.6 673.2,900.1 677,887.6 666.6,879.6 679.7,879.4"/>
<polygon points="718,813.1 722.3,825.5 735.4,825.7 725,833.7 728.8,846.2 718,838.7 707.2,846.2 711,833.7 700.6,825.7 713.7,825.5"/>
<polygon points="759,765 763.3,777.4 776.4,777.6 766,785.6 769.8,798.1 759,790.6 748.2,798.1 752,785.6 741.6,777.6 754.7,777.4"/>
<polygon points="797.5,733.5 801.8,745.9 814.9,746.1 804.5,754.1 808.3,766.6 797.5,759.1 786.7,766.6 790.5,754.1 780.1,746.1 793.2,745.9"/>
<polygon points="834.7,681.5 839,693.9 852.1,694.1 841.7,702.1 845.5,714.6 834.7,707.1 823.9,714.6 827.7,702.1 817.3,694.1 830.4,693.9"/>
<polygon points="875.3,638.3 879.6,650.7 892.7,650.9 882.3,658.9 886.1,671.4 875.3,663.9 864.5,671.4 868.3,658.9 857.9,650.9 871,650.7"/>
<polygon points="914,619.5 918.3,631.9 931.4,632.1 921,640.1 924.8,652.6 914,645.1 903.2,652.6 907,640.1 896.6,632.1 909.7,631.9"/>
<polygon points="952.7,573.5 957,585.9 970.1,586.1 959.7,594.1 963.5,606.6 952.7,599.1 941.9,606.6 945.7,594.1 935.3,586.1 948.4,585.9"/>
<polygon points="991,529.8 995.3,542.2 1008.4,542.4 998,550.4 1001.8,562.9 991,555.4 980.2,562.9 984,550.4 973.6,542.4 986.7,542.2"/>
<polygon points="1029.5,505 1033.8,517.4 1046.9,517.6 1036.5,525.6 1040.3,538.1 1029.5,530.6 1018.7,538.1 1022.5,525.6 1012.1,517.6 1025.2,517.4"/>
<polygon points="1068,473.7 1072.3,486.1 1085.4,486.3 1075,494.3 1078.8,506.8 1068,499.3 1057.2,506.8 1061,494.3 1050.6,486.3 1063.7,486.1"/>
<polygon points="1107.2,444.6 1111.5,457 1124.6,457.2 1114.2,465.2 1118,477.7 1107.2,470.2 1096.4,477.7 1100.2,465.2 1089.8,457.2 1102.9,457"/>
<polygon points="1145.4,415.9 1149.7,428.3 1162.8,428.5 1152.4,436.5 1156.2,449 1145.4,441.5 1134.6,449 1138.4,436.5 1128,428.5 1141.1,428.3"/>
<polygon points="1184.8,390.7 1189.1,403.1 1202.2,403.3 1191.8,411.3 1195.6,423.8 1184.8,416.3 1174,423.8 1177.8,411.3 1167.4,403.3 1180.5,403.1"/>
<polygon points="1224.4,346.5 1228.7,358.9 1241.8,359.1 1231.4,367.1 1235.2,379.6 1224.4,372.1 1213.6,379.6 1217.4,367.1 1207,359.1 1220.1,358.9"/>
<polygon points="1261.1,332.3 1265.4,344.7 1278.5,344.9 1268.1,352.9 1271.9,365.4 1261.1,357.9 1250.3,365.4 1254.1,352.9 1243.7,344.9 1256.8,344.7"/>
<polygon points="1300.4,309.9 1304.7,322.3 1317.8,322.5 1307.4,330.5 1311.2,343 1300.4,335.5 1289.6,343 1293.4,330.5 1283,322.5 1296.1,322.3"/>
<polygon points="1341.5,290.5 1345.8,302.9 1358.9,303.1 1348.5,311.1 1352.3,323.6 1341.5,316.1 1330.7,323.6 1334.5,311.1 1324.1,303.1 1337.2,302.9"/>
<polygon points="1378.3,273.9 1382.6,286.3 1395.7,286.5 1385.3,294.5 1389.1,307 1378.3,299.5 1367.5,307 1371.3,294.5 1360.9,286.5 1374,286.3"/>
<polygon points="1416.9,263.1 1421.2,275.5 1434.3,275.7 1423.9,283.7 1427.7,296.2 1416.9,288.7 1406.1,296.2 1409.9,283.7 1399.5,275.7 1412.6,275.5"/>
<polygon points="1454.9,252.7 1459.2,265.1 1472.3,265.3 1461.9,273.3 1465.7,285.8 1454.9,278.3 1444.1,285.8 1447.9,273.3 1437.5,265.3 1450.6,265.1"/>
<polygon points="1493.6,236.1 1497.9,248.5 1511,248.7 1500.6,256.7 1504.4,269.2 1493.6,261.7 1482.8,269.2 1486.6,256.7 1476.2,248.7 1489.3,248.5"/>
<polygon points="1532.6,218.2 1536.9,230.6 1550,230.8 1539.6,238.8 1543.4,251.3 1532.6,243.8 1521.8,251.3 1525.6,238.8 1515.2,230.8 1528.3,230.6"/>
<polygon points="1571.1,205.3 1575.4,217.7 1588.5,217.9 1578.1,225.9 1581.9,238.4 1571.1,230.9 1560.3,238.4 1564.1,225.9 1553.7,217.9 1566.8,217.7"/>
<polygon points="1609.6,197.1 1613.9,209.5 1627,209.7 1616.6,217.7 1620.4,230.2 1609.6,222.7 1598.8,230.2 1602.6,217.7 1592.2,209.7 1605.3,209.5"/>
<polygon points="1650.3,194.5 1654.6,206.9 1667.7,207.1 1657.3,215.1 1661.1,227.6 1650.3,220.1 1639.5,227.6 1643.3,215.1 1632.9,207.1 1646,206.9"/>
<polygon points="1685.8,182.1 1690.1,194.5 1703.2,194.7 1692.8,202.7 1696.6,215.2 1685.8,207.7 1675,215.2 1678.8,202.7 1668.4,194.7 1681.5,194.5"/>
<polygon points="1726,184.2 1730.3,196.6 1743.4,196.8 1733,204.8 1736.8,217.3 1726,209.8 1715.2,217.3 1719,204.8 1708.6,196.8 1721.7,196.6"/>
<polygon points="1765.1,172 1769.4,184.4 1782.5,184.6 1772.1,192.6 1775.9,205.1 1765.1,197.6 1754.3,205.1 1758.1,192.6 1747.7,184.6 1760.8,184.4"/>
<polygon points="1803.4,175.4 1807.7,187.8 1820.8,188 1810.4,196 1814.2,208.5 1803.4,201 1792.6,208.5 1796.4,196 1786,188 1799.1,187.8"/>
<polygon points="1842,173.7 1846.3,186.1 1859.4,186.3 1849,194.3 1852.8,206.8 1842,199.3 1831.2,206.8 1835,194.3 1824.6,186.3 1837.7,186.1"/>
<polygon points="1880.2,175.4 1884.5,187.8 1897.6,188 1887.2,196 1891,208.5 1880.2,201 1869.4,208.5 1873.2,196 1862.8,188 1875.9,187.8"/>
<polygon points="1919,184.1 1923.3,196.5 1936.4,196.7 1926,204.7 1929.8,217.2 1919,209.7 1908.2,217.2 1912,204.7 1901.6,196.7 1914.7,196.5"/>
<polygon points="1959,193.7 1963.3,206.1 1976.4,206.3 1966,214.3 1969.8,226.8 1959,219.3 1948.2,226.8 1952,214.3 1941.6,206.3 1954.7,206.1"/>
</g>
</g>
<g stroke="#000" stroke-width="4.1" fill="none" stroke-linecap="butt">
<path d="M252.7 45.1 V1385.5"/>
<path d="M2109.7 45.1 V1385.5"/>
<path d="M252.7 47.1 H2109.7"/>
<path d="M252.7 1383.4 H2109.7"/>
<path d="M252.7 47.1H226.2M252.7 149.4H240.4M252.7 251.3H226.2M252.7 354.7H240.4M252.7 457H226.2M252.7 559.5H240.4M252.7 662.5H226.2M252.7 765.4H240.4M252.7 869.3H226.2M252.7 970.8H240.4M252.7 1073.1H226.2M252.7 1176.8H240.4M252.7 1279.2H226.2M252.7 1383.4H240.4M2109.7 47.1H2133.9M2109.7 213.6H2121.7M2109.7 380.3H2133.9M2109.7 547H2121.7M2109.7 715.2H2133.9M2109.7 882H2121.7M2109.7 1048.5H2133.9M2109.7 1216H2121.7M2109.7 1383.4H2133.9M252.7 1383.4V1395.9M406.3 1383.4V1408.7M561.5 1383.4V1395.9M717.3 1383.4V1408.7M870.8 1383.4V1395.9M1026.6 1383.4V1408.7M1179.8 1383.4V1395.9M1335.7 1383.4V1408.7M1489.3 1383.4V1395.9M1645.1 1383.4V1408.7M1798.2 1383.4V1395.9M1953.8 1383.4V1408.7M2109.7 1383.4V1395.9"/>
</g>
<g>
<text class="tk" transform="translate(210.4 1295.6) scale(0.964 1)" text-anchor="end">0</text>
<text class="tk" transform="translate(210.4 1089.9) scale(0.964 1)" text-anchor="end">100</text>
<text class="tk" transform="translate(210.4 884.2) scale(0.964 1)" text-anchor="end">200</text>
<text class="tk" transform="translate(210.4 678.4) scale(0.964 1)" text-anchor="end">300</text>
<text class="tk" transform="translate(210.4 472.7) scale(0.964 1)" text-anchor="end">400</text>
<text class="tk" transform="translate(210.4 267) scale(0.964 1)" text-anchor="end">500</text>
<text class="tk" transform="translate(210.4 61.3) scale(0.964 1)" text-anchor="end">600</text>
<text class="tk" transform="translate(2152 1397.5) scale(0.964 1)">70</text>
<text class="tk" transform="translate(2152 1063.3) scale(0.964 1)">75</text>
<text class="tk" transform="translate(2152 729.2) scale(0.964 1)">80</text>
<text class="tk" transform="translate(2152 395) scale(0.964 1)">85</text>
<text class="tk" transform="translate(2152 60.9) scale(0.964 1)">90</text>
<text class="tk" transform="translate(406.5 1468.1) scale(0.964 1)" text-anchor="middle">30</text>
<text class="tk" transform="translate(717.5 1468.1) scale(0.964 1)" text-anchor="middle">40</text>
<text class="tk" transform="translate(1026.8 1468.1) scale(0.964 1)" text-anchor="middle">50</text>
<text class="tk" transform="translate(1335.9 1468.1) scale(0.964 1)" text-anchor="middle">60</text>
<text class="tk" transform="translate(1645.3 1468.1) scale(0.964 1)" text-anchor="middle">70</text>
<text class="tk" transform="translate(1954 1468.1) scale(0.964 1)" text-anchor="middle">80</text>
</g>
<text class="tt" transform="translate(1180.5 1576) scale(0.95 1)" text-anchor="middle">temperature (°C)</text>
<text class="ty" transform="translate(80.2 714.6) rotate(-90) scale(1.042 1)" text-anchor="middle">G* (kPa)</text>
<text class="ty" transform="translate(2306.5 610.4) rotate(-90) scale(1.056 1)" text-anchor="middle">δ (°)</text>
<rect x="1043.5" y="700" width="560" height="355.5" fill="#fff" stroke="#000" stroke-width="2"/>
<g fill="#000000"><path d="M1051 741H1186" stroke="#000000" stroke-width="2" fill="none"/>
<rect x="1109.5" y="731" width="20" height="20"/></g>
<text class="lg" transform="translate(1199.3 760.6) scale(0.982 1)">Asphalt</text>
<g fill="#F04040"><path d="M1051 832.6H1186" stroke="#F04040" stroke-width="2" fill="none"/>
<circle cx="1119.3" cy="832.6" r="15.4"/></g>
<text class="lg" transform="translate(1199.3 851.6) scale(0.971 1)">20% GTCM-1.0</text>
<g fill="#1A6FDF"><path d="M1051 922.3H1186" stroke="#1A6FDF" stroke-width="2" fill="none"/>
<polygon points="1119.3,901.2 1137.5,932.8 1101.1,932.8"/></g>
<text class="lg" transform="translate(1199.3 941.3) scale(0.971 1)">10% GTCM-1.0</text>
<g fill="#079307"><path d="M1051 1011.7H1186" stroke="#079307" stroke-width="2" fill="none"/>
<polygon points="1120.2,994.2 1124.5,1006.6 1137.6,1006.8 1127.2,1014.8 1131,1027.3 1120.2,1019.8 1109.4,1027.3 1113.2,1014.8 1102.8,1006.8 1115.9,1006.6"/></g>
<text class="lg" transform="translate(1199.3 1031) scale(0.971 1)">30% GTCM-1.0</text>
<g fill="#000">
<rect x="-6.3" y="-3.9" width="12.6" height="7.8" rx="1.8" transform="translate(410.7 179.5) rotate(-25.5)"/><rect x="-6.3" y="-3.9" width="12.6" height="7.8" rx="1.8" transform="translate(453.8 188.1) rotate(43.4)"/><rect x="-6.3" y="-3.9" width="12.6" height="7.8" rx="1.8" transform="translate(379.6 214.7) rotate(-59.9)"/><rect x="-6.3" y="-3.9" width="12.6" height="7.8" rx="1.8" transform="translate(479.7 227.8) rotate(65.2)"/><rect x="-6.3" y="-3.9" width="12.6" height="7.8" rx="1.8" transform="translate(360.7 258.8) rotate(-71.9)"/><rect x="-6.3" y="-3.9" width="12.6" height="7.8" rx="1.8" transform="translate(497 273.7) rotate(74.9)"/><rect x="-6.3" y="-3.9" width="12.6" height="7.8" rx="1.8" transform="translate(349.3 305.4) rotate(-78.6)"/><rect x="-6.3" y="-3.9" width="12.6" height="7.8" rx="1.8" transform="translate(506.3 321) rotate(80.6)"/><rect x="-6.3" y="-3.9" width="12.6" height="7.8" rx="1.8" transform="translate(340.6 353.8) rotate(-83.8)"/><rect x="-6.3" y="-3.9" width="12.6" height="7.8" rx="1.8" transform="translate(512.5 369.3) rotate(85.2)"/><rect x="-6.3" y="-3.9" width="12.6" height="7.8" rx="1.8" transform="translate(337.5 403.1) rotate(-88)"/><rect x="-6" y="-3.9" width="12" height="7.8" rx="1.8" transform="translate(513.2 417.5) rotate(89.1)"/><rect x="-13.5" y="-3.9" width="27" height="7.8" rx="1.8" transform="translate(513.2 441) rotate(91.1)"/><rect x="-6.3" y="-3.9" width="12.6" height="7.8" rx="1.8" transform="translate(337.5 450.4) rotate(-91.8)"/><rect x="-6.3" y="-3.9" width="12.6" height="7.8" rx="1.8" transform="translate(340 498.7) rotate(-95.9)"/><rect x="-6.3" y="-3.9" width="12.6" height="7.8" rx="1.8" transform="translate(510.1 497) rotate(95.8)"/><rect x="-6.3" y="-3.9" width="12.6" height="7.8" rx="1.8" transform="translate(348.6 546.6) rotate(-100.9)"/><rect x="-6.3" y="-3.9" width="12.6" height="7.8" rx="1.8" transform="translate(503.9 543.1) rotate(100.4)"/><rect x="-6.3" y="-3.9" width="12.6" height="7.8" rx="1.8" transform="translate(358.9 593.2) rotate(-107.2)"/><rect x="-6.3" y="-3.9" width="12.6" height="7.8" rx="1.8" transform="translate(494.2 590.4) rotate(106.4)"/><rect x="-6.3" y="-3.9" width="12.6" height="7.8" rx="1.8" transform="translate(377.2 639.1) rotate(-118.6)"/><rect x="-6.3" y="-3.9" width="12.6" height="7.8" rx="1.8" transform="translate(478 636.3) rotate(116.4)"/><rect x="-6.3" y="-3.9" width="12.6" height="7.8" rx="1.8" transform="translate(406.6 676) rotate(-148.6)"/><rect x="-6.3" y="-3.9" width="12.6" height="7.8" rx="1.8" transform="translate(448.7 675) rotate(143.1)"/>
<rect x="-7" y="-3.9" width="14" height="7.8" rx="1.8" transform="translate(1958 126.2) rotate(8.2)"/><rect x="-6.3" y="-3.9" width="12.6" height="7.8" rx="1.8" transform="translate(1917.5 141.3) rotate(-46.2)"/><rect x="-7" y="-3.9" width="14" height="7.8" rx="1.8" transform="translate(1895.9 183.5) rotate(-80)"/><rect x="-6.3" y="-3.9" width="12.6" height="7.8" rx="1.8" transform="translate(1898 231.9) rotate(-107.2)"/><rect x="-6.3" y="-3.9" width="12.6" height="7.8" rx="1.8" transform="translate(1923.5 269) rotate(-142.5)"/><rect x="-6.3" y="-3.9" width="12.6" height="7.8" rx="1.8" transform="translate(1966.7 277.6) rotate(160.7)"/><rect x="-6.3" y="-3.9" width="12.6" height="7.8" rx="1.8" transform="translate(1998.6 248.2) rotate(118.9)"/><rect x="-9" y="-3.9" width="18" height="7.8" rx="1.8" transform="translate(2008.6 200.2) rotate(89.3)"/><rect x="-6.3" y="-3.9" width="12.6" height="7.8" rx="1.8" transform="translate(1994.6 151.6) rotate(57.2)"/>
</g>
<defs><radialGradient id="gh"><stop offset="0" stop-color="#e9fcff"/><stop offset="1" stop-color="#ffffff" stop-opacity="0"/></radialGradient></defs><ellipse cx="2294" cy="842" rx="22" ry="24" fill="url(#gh)"/>
<g fill="#000">
<path d="M2010.5 178.2H2057.5V167.8L2110.5 182.6L2057.5 199V187H2010.5Z"/><rect x="2110" y="182.4" width="7.5" height="1.2" fill="#666"/>
<path d="M337.5 297.2H311V286.4L259.5 301.6L311 317.8V305.4H337.5Z"/><rect x="254" y="301" width="7" height="1.2" fill="#444"/>
</g>
</svg></body></html>
